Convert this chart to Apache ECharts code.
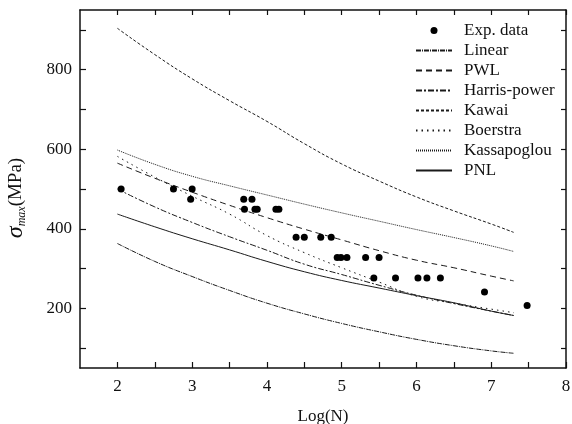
<!DOCTYPE html>
<html>
<head>
<meta charset="utf-8">
<script src="https://cdn.jsdelivr.net/npm/echarts@6/dist/echarts.min.js"></script>
<style>html,body{margin:0;padding:0;background:#fff}#c{width:572px;height:424px}</style>
</head>
<body>
<div id="c"></div>
<script>
// ---- data ----
const logN = [2, 2.5, 3, 3.5, 4, 4.5, 5, 5.5, 6, 6.5, 7, 7.3];
const linearY = [363, 318, 280, 245, 213, 186, 162, 141, 122, 106, 93, 87];
const pwlY = [565, 527, 492, 459, 428, 399, 372, 345, 321, 302, 281, 269];
const harrisY = [500, 455, 416, 380, 346, 311, 285, 258, 233, 212, 193, 182];
const kawaiY = [904, 838, 777, 722, 670, 614, 563, 520, 480, 445, 412, 391];
const boerstraY = [582, 530, 482, 437, 383, 340, 302, 266, 230, 213, 198, 189];
const kassapoglouY = [598, 562, 532, 508, 485, 462, 440, 419, 398, 378, 357, 343];
const pnlY = [437, 405, 375, 347, 318, 292, 270, 251, 232, 214, 193, 182];

const expX = [2.05, 2.75, 3.0, 2.98, 3.69, 3.80, 3.70, 3.84, 3.87, 4.12, 4.16, 4.39, 4.50, 4.72, 4.86, 4.94, 4.99, 5.07, 5.32, 5.50, 5.43, 5.72, 6.02, 6.14, 6.32, 6.91, 7.48];
const expY = [500, 500, 500, 474, 474, 474, 449, 449, 449, 449, 449, 379, 379, 379, 379, 328, 328, 328, 328, 328, 276, 276, 276, 276, 276, 241, 207];

const xLabels = [2, 3, 4, 5, 6, 7, 8];
const xTicks = [2, 2.5, 3, 3.5, 4, 4.5, 5, 5.5, 6, 6.5, 7, 7.5, 8];
const yLabels = [200, 400, 600, 800];
const yTicks = [100, 200, 300, 400, 500, 600, 700, 800, 900];
const lineNames = ['Linear', 'PWL', 'Harris-power', 'Kawai', 'Boerstra', 'Kassapoglou', 'PNL'];

// ---- chart ----
const FONT = '"Liberation Serif", "DejaVu Serif", serif';
const pair = (xs, ys) => xs.map((x, i) => [x, ys[i]]);
const chart = echarts.init(document.getElementById('c'), null, {renderer: 'canvas'});

function lineSeries(name, ys, type) {
  return {
    name, type: 'line', data: pair(logN, ys), smooth: true, symbol: 'none', showSymbol: false,
    lineStyle: {color: '#1a1a1a', width: 1, type: type},
    itemStyle: {color: '#1a1a1a'},
    z: 3
  };
}

const axisLine = {show: true, lineStyle: {color: '#111', width: 1.5}};
const xCommon = {type: 'value', min: 1.5, max: 8, splitLine: {show: false}, axisLine};
const yCommon = {type: 'value', min: 50, max: 950, splitLine: {show: false}, axisLine};

chart.setOption({
  animation: false,
  backgroundColor: '#fff',
  grid: {left: 80, right: 6, top: 10, bottom: 56, containLabel: false, outerBoundsMode: 'none'},
  legend: {
    orient: 'vertical', left: 410, top: 17,
    itemWidth: 36, itemHeight: 7, itemGap: 3,
    textStyle: {fontFamily: FONT, fontSize: 17, color: '#111', padding: [0, 0, 0, 7]},
    data: [{name: 'Exp. data', icon: 'circle', itemStyle: {color: '#000', opacity: 1}}].concat(
      lineNames.map(n => ({name: n, itemStyle: {opacity: 0}})))
  },
  xAxis: [
    Object.assign({}, xCommon, {
      position: 'bottom',
      name: 'Log(N)', nameLocation: 'middle', nameGap: 40,
      nameTextStyle: {fontFamily: FONT, fontSize: 17, color: '#111'},
      axisTick: {show: true, inside: true, length: 6, customValues: xTicks, lineStyle: {color: '#111', width: 1.2}},
      axisLabel: {show: true, customValues: xLabels, fontFamily: FONT, fontSize: 17, color: '#111', margin: 10}
    }),
    Object.assign({}, xCommon, {
      position: 'top',
      axisTick: {show: true, inside: true, length: 5, customValues: xTicks, lineStyle: {color: '#111', width: 1.2}},
      axisLabel: {show: false}
    })
  ],
  yAxis: [
    Object.assign({}, yCommon, {
      position: 'left',
      name: '{s|σ}{m|max}{u|(MPa)}', nameLocation: 'middle', nameRotate: 90, nameGap: 52,
      nameTextStyle: {
        fontFamily: FONT, color: '#111', padding: [0, 18, 0, 0],
        rich: {
          s: {fontFamily: FONT, fontSize: 24, fontStyle: 'italic', color: '#111'},
          m: {fontFamily: FONT, fontSize: 12, fontStyle: 'italic', color: '#111', verticalAlign: 'bottom', padding: [9, 0, 0, 0]},
          u: {fontFamily: FONT, fontSize: 19, color: '#111'}
        }
      },
      axisTick: {show: true, inside: true, length: 6, customValues: yTicks, lineStyle: {color: '#111', width: 1.2}},
      axisLabel: {show: true, customValues: yLabels, fontFamily: FONT, fontSize: 17, color: '#111', margin: 8}
    }),
    Object.assign({}, yCommon, {
      position: 'right',
      axisTick: {show: true, inside: true, length: 5, customValues: yTicks, lineStyle: {color: '#111', width: 1.2}},
      axisLabel: {show: false}
    })
  ],
  series: [
    {
      name: 'Exp. data', type: 'scatter', data: pair(expX, expY),
      symbol: 'circle', symbolSize: 7, itemStyle: {color: '#000', opacity: 1}, z: 5
    },
    lineSeries('Linear', linearY, [5, 1, 1, 1]),
    lineSeries('PWL', pwlY, [6, 4]),
    lineSeries('Harris-power', harrisY, [6, 2, 2, 2]),
    lineSeries('Kawai', kawaiY, [3, 2]),
    lineSeries('Boerstra', boerstraY, [1.5, 4]),
    lineSeries('Kassapoglou', kassapoglouY, [1, 1]),
    lineSeries('PNL', pnlY, 'solid')
  ]
});
</script>
</body>
</html>
